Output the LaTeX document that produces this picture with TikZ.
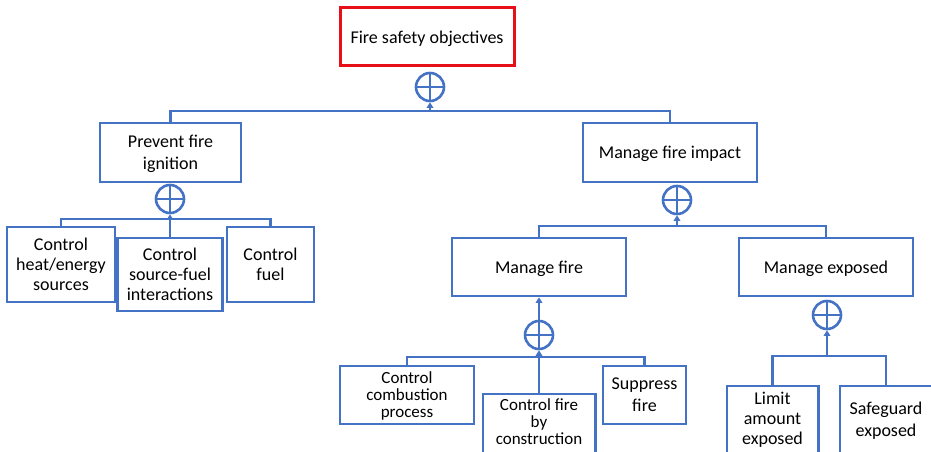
\documentclass[tikz,border=0pt]{standalone}
\usepackage{fontspec}
\setmainfont{Carlito}
\usetikzlibrary{arrows.meta}
\definecolor{bl}{RGB}{68,114,196}
\definecolor{rd}{RGB}{232,16,24}
\newcommand\fsA{\fontsize{18}{22}\selectfont}
\newcommand\fsB{\fontsize{18}{20}\selectfont}
\newcommand\fsC{\fontsize{17}{17}\selectfont}
\tikzset{
  box/.style={draw=bl, line width=2.6pt, fill=white, align=center, inner sep=1pt, text=black, text depth=0pt},
  openbox/.style={draw=none, align=center, inner sep=1pt, text=black, text depth=0pt},
  border/.style={draw=bl, line width=2.6pt},
  ln/.style={draw=bl, line width=2.6pt},
  arr/.style={draw=bl, line width=2.6pt, -{Triangle[length=5.5pt,width=6.5pt]}},
  orgate/.style={circle, draw=bl, line width=2.6pt, minimum size=28pt, inner sep=0pt,
    path picture={\draw[bl, line width=2.2pt]
      (path picture bounding box.north) -- (path picture bounding box.south)
      (path picture bounding box.west) -- (path picture bounding box.east);}}
}
\begin{document}
\begin{tikzpicture}[x=1pt,y=-1pt]
\useasboundingbox (0,0) rectangle (931,452);
\fill[white] (0,0) rectangle (931,452);
\clip (0,0) rectangle (931,452);

% top
\node[box, draw=rd, line width=3pt, minimum width=174pt, minimum height=58pt, font=\fsA] (fso) at (427,37) {Fire safety objectives};
\node[orgate] (or1) at (430,87) {};

% level 1
\node[box, minimum width=141pt, minimum height=59pt, font=\fsA] (pf) at (170.5,152.5) {Prevent fire\\ignition};
\node[box, minimum width=174pt, minimum height=59pt, font=\fsA] (mfi) at (670,152.5) {Manage fire impact};
\coordinate (b1) at (430,111);
\draw[ln] (pf.north) |- (b1) -| (mfi.north);
\draw[arr] (b1) -- (or1.south);

% prevent fire ignition children
\node[orgate] (or2) at (170,199) {};
\node[box, minimum width=108pt, minimum height=75pt, font=\fsB] (ch) at (61,264.5) {Control\\heat/energy\\sources};
\node[box, minimum width=105pt, minimum height=73pt, font=\fsB] (cs) at (170,274.5) {Control\\source-fuel\\interactions};
\node[box, minimum width=87pt, minimum height=75pt, font=\fsB] (cf) at (270.5,264.5) {Control\\fuel};
\coordinate (b2) at (170,219);
\draw[ln] (ch.north) |- (b2) -| (cf.north);
\draw[arr] (cs.north) -- (or2.south);

% manage fire impact children
\node[orgate] (or3) at (677,200) {};
\node[box, minimum width=174pt, minimum height=58pt, font=\fsA] (mf) at (539,267) {Manage fire};
\node[box, minimum width=174pt, minimum height=58pt, font=\fsA] (me) at (826,267) {Manage exposed};
\coordinate (b3) at (677,226);
\draw[ln] (mf.north) |- (b3) -| (me.north);
\draw[arr] (b3) -- (or3.south);

% manage fire children
\node[orgate] (or4) at (539,335) {};
\draw[arr] (or4.north) -- (mf.south);
\node[box, minimum width=134pt, minimum height=58pt, font=\fsC] (ccp) at (407,395) {Control\\combustion\\process};
\node[openbox, minimum width=112pt, minimum height=56pt, font=\fsC] (cfc) at (539,422) {Control fire\\by\\construction};
\draw[border] ([yshift=-20pt]cfc.south west) -- (cfc.north west) -- (cfc.north east) -- ([yshift=-20pt]cfc.south east);
\node[box, minimum width=83pt, minimum height=58pt, font=\fsA] (sf) at (644.5,395) {Suppress\\fire};
\coordinate (b4) at (539,357);
\draw[ln] (ccp.north) |- (b4) -| (sf.north);
\draw[arr] (cfc.north) -- (or4.south);

% manage exposed children
\node[orgate] (or5) at (827,315) {};
\node[openbox, minimum width=91pt, minimum height=64pt, font=\fsB] (lae) at (772.5,418) {Limit\\amount\\exposed};
\draw[border] ([yshift=-20pt]lae.south west) -- (lae.north west) -- (lae.north east) -- ([yshift=-20pt]lae.south east);
\node[openbox, minimum width=92pt, minimum height=66pt, font=\fsA] (se) at (886,419) {Safeguard\\exposed};
\draw[border] ([yshift=-20pt]se.south west) -- (se.north west) -- (se.north east) -- ([yshift=-20pt]se.south east);
\coordinate (b5) at (827,356);
\draw[ln] (lae.north) |- (b5) -| (se.north);
\draw[arr] (b5) -- (or5.south);
\end{tikzpicture}
\end{document}
